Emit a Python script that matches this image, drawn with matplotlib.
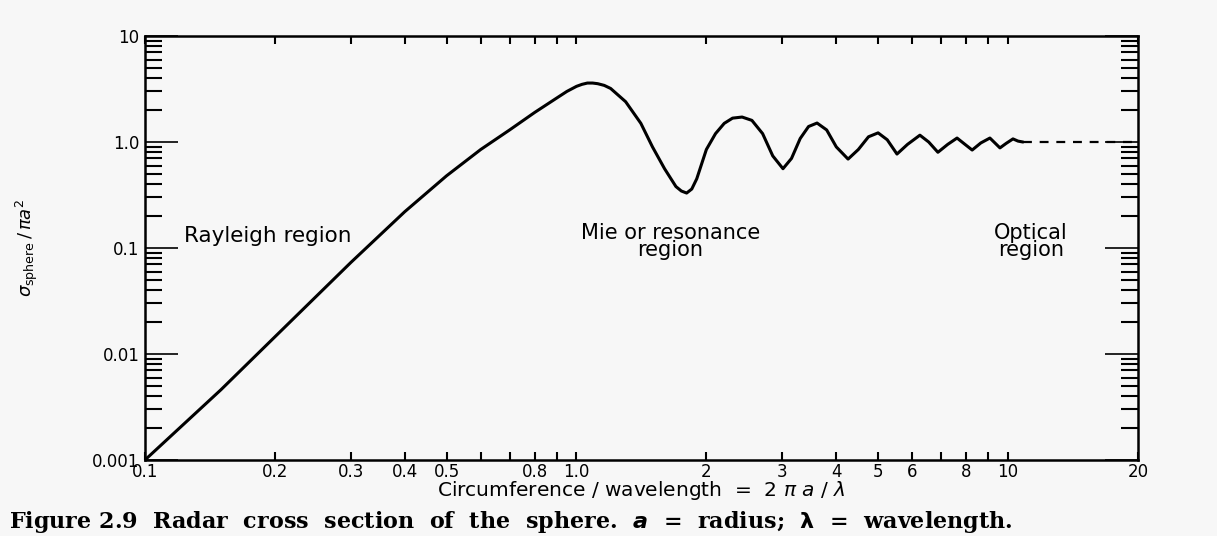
import matplotlib
matplotlib.use('Agg')
import matplotlib.pyplot as plt
from matplotlib.ticker import FixedLocator, NullFormatter, LogLocator
import numpy as np

# points (x = 2*pi*a/lambda, y = sigma/(pi a^2))
circ = [0.1, 0.15, 0.2, 0.3, 0.4, 0.5, 0.6, 0.7, 0.8, 0.9, 0.95, 1.0, 1.03,
        1.06, 1.09, 1.12, 1.16, 1.2, 1.3, 1.41, 1.5, 1.6, 1.7, 1.75, 1.8,
        1.85, 1.9, 2.0, 2.1, 2.2, 2.3, 2.42, 2.55, 2.7, 2.85, 3.01, 3.15,
        3.3, 3.45, 3.61, 3.8, 4.0, 4.26, 4.5, 4.75, 5.0, 5.25, 5.53, 5.85,
        6.25, 6.55, 6.88, 7.25, 7.62, 7.95, 8.26, 8.65, 9.08, 9.35, 9.58,
        9.9, 10.27, 10.55, 10.83]
rcs = [0.001, 0.0046, 0.0145, 0.073, 0.22, 0.48, 0.85, 1.3, 1.9, 2.6, 3.0,
       3.35, 3.5, 3.6, 3.6, 3.55, 3.42, 3.2, 2.4, 1.5, 0.9, 0.56, 0.38,
       0.345, 0.33, 0.36, 0.45, 0.85, 1.2, 1.5, 1.68, 1.72, 1.6, 1.2, 0.74,
       0.56, 0.7, 1.08, 1.4, 1.51, 1.3, 0.9, 0.69, 0.85, 1.12, 1.22, 1.05,
       0.77, 0.95, 1.16, 1.0, 0.80, 0.95, 1.09, 0.95, 0.84, 0.98, 1.09,
       0.97, 0.88, 0.97, 1.07, 1.02, 1.0]
optical_x = [10.83, 20]
optical_y = [1.0, 1.0]

x_major = [0.1, 0.2, 0.3, 0.4, 0.5, 0.8, 1.0, 2, 3, 4, 5, 6, 8, 10, 20]
x_labels = ['0.1', '0.2', '0.3', '0.4', '0.5', '0.8', '1.0', '2', '3', '4',
            '5', '6', '8', '10', '20']
x_minor = [0.6, 0.7, 0.9, 7, 9]
y_major = [0.001, 0.01, 0.1, 1.0, 10]
y_labels = ['0.001', '0.01', '0.1', '1.0', '10']

bg = '#f7f7f7'
fig = plt.figure(figsize=(12.17, 5.36), dpi=100, facecolor=bg)
ax = fig.add_axes([0.1191, 0.1418, 0.8159, 0.791])
ax.set_facecolor(bg)

ax.plot(circ, rcs, color='black', lw=2.2, solid_capstyle='round',
        solid_joinstyle='round')
ax.plot(optical_x, optical_y, color='black', lw=1.6, ls=(0, (4, 3.5)))

ax.set_xscale('log')
ax.set_yscale('log')
ax.set_xlim(0.1, 20)
ax.set_ylim(0.001, 10)

ax.xaxis.set_major_locator(FixedLocator(x_major))
ax.set_xticklabels(x_labels)
ax.xaxis.set_minor_locator(FixedLocator(x_minor))
ax.xaxis.set_minor_formatter(NullFormatter())
ax.yaxis.set_major_locator(FixedLocator(y_major))
ax.set_yticklabels(y_labels)
ax.yaxis.set_minor_locator(LogLocator(base=10, subs=np.arange(2, 10)))
ax.yaxis.set_minor_formatter(NullFormatter())

ax.tick_params(axis='x', which='both', direction='in', top=True, length=6,
               width=1.5, labelsize=12, pad=2)
ax.tick_params(axis='y', which='major', direction='in', right=True,
               length=24, width=1.2, labelsize=12, pad=4)
ax.tick_params(axis='y', which='minor', direction='in', right=True,
               length=12, width=1.5)
for s in ax.spines.values():
    s.set_linewidth(1.8)

ax.set_xlabel(r'Circumference / wavelength  =  2 $\pi$ $a$ / $\lambda$',
              fontsize=14.5, labelpad=-1)
ax.set_ylabel(r'$\sigma_{\rm sphere}\,/\,\pi a^2$', fontsize=13)
ax.yaxis.set_label_coords(-0.106, 0.5)

ax.text(0.193, 0.13, 'Rayleigh region', fontsize=15.5, ha='center', va='center')
ax.text(1.65, 0.115, 'Mie or resonance\nregion', fontsize=15, ha='center',
        va='center', linespacing=0.85)
ax.text(11.3, 0.115, 'Optical\nregion', fontsize=15, ha='center',
        va='center', linespacing=0.85)

fig.text(0.007, 0.026,
         r'Figure 2.9  Radar  cross  section  of  the  sphere.  $\mathbfit{a}$  =  radius;  $\mathbf{\lambda}$  =  wavelength.',
         fontsize=16, fontweight='bold', family='DejaVu Serif', va='center')

fig.savefig('out.png', dpi=100, facecolor=bg)
